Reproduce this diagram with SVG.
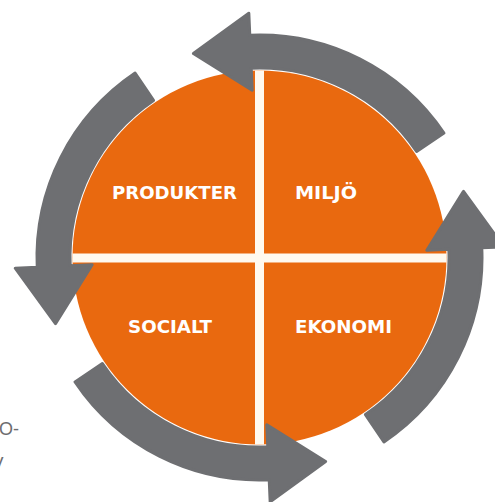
<svg xmlns="http://www.w3.org/2000/svg" width="495" height="502" viewBox="0 0 495 502">
  <defs>
    <style>
      .disc { fill: #e9690f; }
      .bar { fill: #fff9ef; }
      .label { font-family: "DejaVu Sans", "Liberation Sans", sans-serif; font-weight: bold; font-size: 18.5px; fill: #ffffff; }
      .side { font-family: "Liberation Sans", Arial, sans-serif; font-size: 18px; fill: #6d6d6f; }
      .cycle { fill: #6e6f72; stroke: #6e6f72; stroke-width: 3; stroke-linejoin: round; }
    </style>
    <!-- one curved arrow of the cycle, drawn at the top and rotated about the disc centre -->
    <path id="cycle-arrow" class="cycle" d="M443.96,133.08 A222.5,222.5 0 0 0 249.79,35.21 L248.84,13.23 L193.4,53.5 L252.19,90.16 L251.23,68.18 A189.5,189.5 0 0 1 416.6,151.53 Z"/>
  </defs>

  <rect width="495" height="502" fill="#ffffff"/>

  <!-- orange disc split into four fields -->
  <g id="disc">
    <circle class="disc" cx="259.5" cy="257.5" r="187"/>
    <rect class="bar" x="255" y="70.5" width="9" height="374"/>
    <rect class="bar" x="72.5" y="253.5" width="374" height="9"/>
  </g>

  <g id="node-produkter">
    <text class="label" x="112" y="199" textLength="125" lengthAdjust="spacingAndGlyphs">PRODUKTER</text>
  </g>
  <g id="node-miljo">
    <text class="label" x="295" y="199" textLength="62" lengthAdjust="spacingAndGlyphs">MILJÖ</text>
  </g>
  <g id="node-socialt">
    <text class="label" x="128" y="333" textLength="84" lengthAdjust="spacingAndGlyphs">SOCIALT</text>
  </g>
  <g id="node-ekonomi">
    <text class="label" x="295" y="333" textLength="97" lengthAdjust="spacingAndGlyphs">EKONOMI</text>
  </g>

  <!-- counter-clockwise cycle arrows -->
  <g id="connectors">
    <use href="#cycle-arrow"/>
    <use href="#cycle-arrow" transform="rotate(-90 259.5 257.5)"/>
    <use href="#cycle-arrow" transform="rotate(180 259.5 257.5)"/>
    <use href="#cycle-arrow" transform="rotate(90 259.5 257.5)"/>
  </g>

  <!-- running text cut by the page edge -->
  <g id="side-text">
    <text class="side" x="-1" y="435">O-</text>
    <text class="side" x="-8.5" y="470">V</text>
  </g>
</svg>
